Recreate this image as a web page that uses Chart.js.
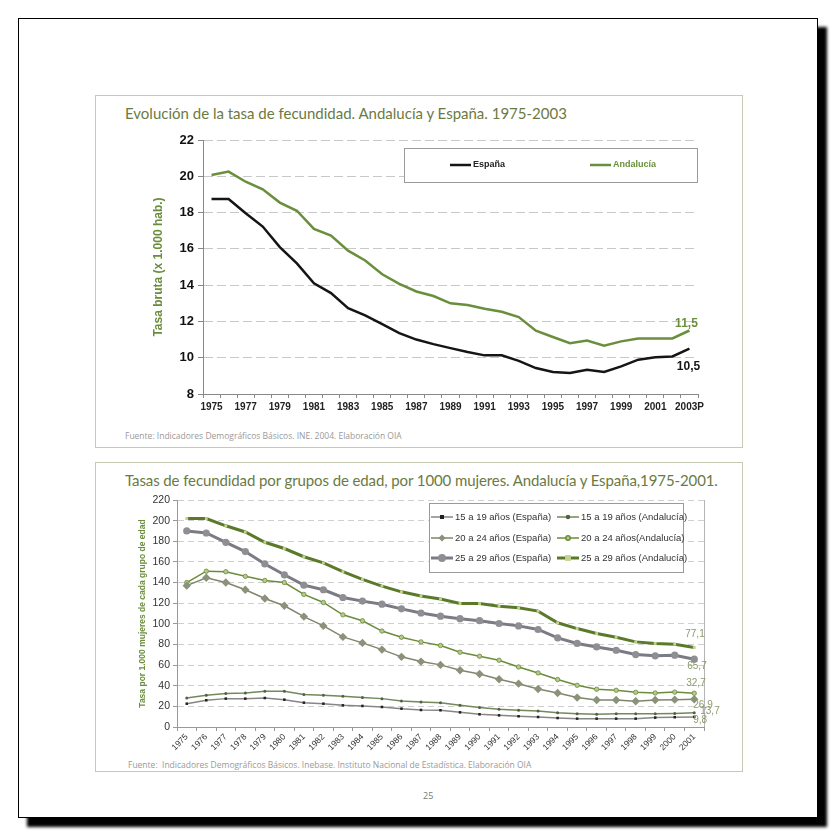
<!DOCTYPE html>
<html>
<head>
<meta charset="utf-8">
<script src="https://cdn.jsdelivr.net/npm/chart.js@4.4.1/dist/chart.umd.min.js"></script>
<style>
  body { margin:0; width:838px; height:838px; background:#fff; position:relative; overflow:hidden; font-family:'Liberation Sans', Arial, sans-serif; }
  #page { position:absolute; left:18px; top:18px; width:798px; height:798px; border:1px solid #000; background:#fff; box-shadow:9px 9px 3px #000; }
  .box { position:absolute; left:95px; width:646px; border:1px solid #c6c9b3; background:#fff; }
  .title { position:absolute; left:125px; font-family:Lato, 'Open Sans', sans-serif; font-size:15px; line-height:18px; color:#6b7a43; white-space:nowrap; }
  .src { position:absolute; font-family:'Open Sans', sans-serif; font-size:8.5px; color:#9a9a9a; white-space:nowrap; }
  .cv { position:absolute; left:96px; }
  #pnum { position:absolute; left:423px; top:789px; font-family:'Open Sans', sans-serif; font-size:9px; color:#777; }
</style>
</head>
<body>
<div id="page"></div>
<div class="box" style="top:95px;height:351px"></div>
<div class="box" style="top:462px;height:308px"></div>
<div class="title" style="top:104px">Evolución de la tasa de fecundidad. Andalucía y España. 1975-2003</div>
<div class="src" style="left:125px;top:430px">Fuente: Indicadores Demográficos Básicos. INE. 2004. Elaboración OIA</div>
<div class="title" style="top:471px;letter-spacing:-0.1px">Tasas de fecundidad por grupos de edad, por 1000 mujeres. Andalucía y España,1975-2001.</div>
<div class="src" style="left:128px;top:759px">Fuente:&nbsp; Indicadores Demográficos Básicos. Inebase. Instituto Nacional de Estadística. Elaboración OIA</div>
<div id="pnum">25</div>
<div class="cv" style="top:125px;width:645px;height:300px"><canvas id="c1"></canvas></div>
<div class="cv" style="top:490px;width:645px;height:265px"><canvas id="c2"></canvas></div>
<script>
// chart 1: tasa bruta
const years1 = ['1975','1976','1977','1978','1979','1980','1981','1982','1983','1984','1985','1986','1987','1988','1989',
  '1990','1991','1992','1993','1994','1995','1996','1997','1998','1999','2000','2001','2002','2003P'];
const espana = [18.75,18.75,17.96,17.23,16.1,15.2,14.1,13.56,12.73,12.33,11.85,11.35,11.0,10.75,10.53,
  10.31,10.13,10.13,9.83,9.43,9.21,9.16,9.34,9.21,9.52,9.89,10.02,10.07,10.5];
const andalucia = [20.07,20.26,19.7,19.28,18.55,18.1,17.1,16.73,15.9,15.36,14.6,14.07,13.65,13.4,13.0,
  12.9,12.7,12.53,12.24,11.49,11.14,10.8,10.95,10.66,10.9,11.06,11.06,11.06,11.5];
const ticks1 = [8,10,12,14,16,18,20,22];

// chart 2: tasas por grupos de edad
const years2 = ['1975','1976','1977','1978','1979','1980','1981','1982','1983','1984','1985','1986','1987','1988',
  '1989','1990','1991','1992','1993','1994','1995','1996','1997','1998','1999','2000','2001'];
const esp1519 = [22.6,25.9,27.5,27.5,28.1,26.5,23.6,22.6,21,20.4,19.4,17.8,16.5,16.2,14.2,12.3,11.3,10.4,9.7,8.7,8.1,8.1,8.1,8.1,9.1,9.5,9.8];
const and1519 = [28,30.7,32.4,33,34.6,34.6,31.4,30.7,29.8,28.5,27.5,25.2,24.3,23.6,21,18.8,17.1,16.2,15.5,13.9,12.9,12.3,12.9,12.9,12.9,13.2,13.7];
const esp2024 = [137,144.6,140,133,124.5,117.5,107,98,87.3,81.5,75,68,63.4,60.2,55,51.4,46.3,42,36.9,33,28.5,26.2,26.2,25,26.2,26.5,26.9];
const and2024 = [140,151,150.5,146,142,140,128.5,120.7,108.7,103,93,87,82.5,79,72.5,68.6,64.7,58.2,52.4,46,40.4,36.6,35.6,33.6,33,33.8,32.7];
const esp2529 = [190,188,179,170,158,147.5,137.5,133,125.5,122,119,114.5,110.5,107.4,105,103,100.3,98,94.5,86.4,81,77.6,74.4,70.2,69,69.6,65.7];
const and2529 = [202,202,195,189,179,173,165,159,150.5,143,136.5,131,127,124,119.7,119.7,117,115.5,112.3,101,95.4,90.6,87,82.5,81,80.2,77.1];

Chart.defaults.font.family = "'Liberation Sans', Arial, sans-serif";
Chart.defaults.animation = false;

function fmt(v){ return v.toFixed(1).replace('.', ','); }

// value labels at the last point of each line
const endLabels = {
  id: 'endLabels',
  afterDatasetsDraw(chart, args, opts) {
    const ctx = chart.ctx;
    ctx.save();
    opts.items.forEach(it => {
      const ds = chart.data.datasets[it.ds];
      const meta = chart.getDatasetMeta(it.ds);
      const pt = meta.data[meta.data.length - 1];
      ctx.font = it.font;
      ctx.fillStyle = it.color;
      ctx.textAlign = it.align;
      ctx.textBaseline = 'middle';
      ctx.fillText(fmt(ds.data[ds.data.length - 1]), pt.x + it.dx, pt.y + it.dy);
    });
    ctx.restore();
  }
};

// legend box drawn inside the plot
const boxLegend = {
  id: 'boxLegend',
  afterDraw(chart, args, o) {
    const ctx = chart.ctx, a = chart.chartArea;
    const x = a.left + o.x, y = a.top + o.y;
    ctx.save();
    ctx.fillStyle = '#fff';
    ctx.fillRect(x, y, o.w, o.h);
    ctx.strokeStyle = '#9a9a9a';
    ctx.lineWidth = 1;
    ctx.strokeRect(Math.round(x) + 0.5, Math.round(y) + 0.5, o.w, o.h);
    ctx.textBaseline = 'middle';
    ctx.textAlign = 'left';
    chart.data.datasets.forEach((ds, i) => {
      const col = i % o.cols, row = Math.floor(i / o.cols);
      const lx = x + o.colX[col], ly = y + o.rowY[row];
      ctx.strokeStyle = ds.borderColor;
      ctx.lineWidth = ds.borderWidth;
      ctx.beginPath(); ctx.moveTo(lx, ly); ctx.lineTo(lx + o.len, ly); ctx.stroke();
      if (ds.pointRadius) {
        ctx.fillStyle = ds.pointBackgroundColor;
        ctx.strokeStyle = ds.pointBorderColor;
        Chart.helpers.drawPoint(ctx, {pointStyle: ds.pointStyle, radius: Math.min(ds.pointRadius, 2.5), borderWidth: 0.5, rotation: 0}, lx + o.len / 2, ly);
      }
      ctx.font = o.font;
      ctx.fillStyle = o.textColor ? o.textColor(i) : '#333';
      ctx.fillText(ds.label, lx + o.len + 2, ly);
    });
    ctx.restore();
  }
};

// right edge of the plot area in chart 2
const rightEdge = {
  id: 'rightEdge',
  beforeDatasetsDraw(chart) {
    const ctx = chart.ctx, a = chart.chartArea;
    ctx.save();
    ctx.strokeStyle = '#b5b5b5';
    ctx.lineWidth = 1;
    ctx.beginPath(); ctx.moveTo(Math.round(a.right) + 0.5, a.top); ctx.lineTo(Math.round(a.right) + 0.5, a.bottom); ctx.stroke();
    ctx.restore();
  }
};

const green = '#6a8f3c';

new Chart(document.getElementById('c1'), {
  type: 'line',
  data: {
    labels: years1,
    datasets: [
      { label: 'España', data: espana, borderColor: '#151515', borderWidth: 2.5, pointRadius: 0, tension: 0 },
      { label: 'Andalucía', data: andalucia, borderColor: green, borderWidth: 2.5, pointRadius: 0, tension: 0 }
    ]
  },
  options: {
    responsive: true, maintainAspectRatio: false,
    layout: { padding: { top: 15, right: 43, left: 0, bottom: 0 } },
    plugins: {
      legend: { display: false }, tooltip: { enabled: false },
      endLabels: { items: [
        { ds: 1, dx: -3, dy: -7, align: 'center', color: green, font: 'bold 12px "Liberation Sans", Arial' },
        { ds: 0, dx: -1, dy: 18, align: 'center', color: '#151515', font: 'bold 12px "Liberation Sans", Arial' }
      ] },
      boxLegend: { x: 201, y: 8, w: 293, h: 34, cols: 2, colX: [46, 186], rowY: [17], len: 21,
        font: 'bold 9px "Liberation Sans", Arial', textColor: i => i === 1 ? green : '#222' }
    },
    scales: {
      x: {
        offset: true,
        grid: { offset: true, drawOnChartArea: false, drawTicks: true, tickLength: 4, tickColor: '#888' },
        border: { color: '#888', width: 1 },
        ticks: { autoSkip: false, maxRotation: 0, padding: 3, color: '#222', font: { size: 10, weight: 'bold' },
          callback: (v, i) => i % 2 === 0 ? years1[i] : '' },
        afterFit: s => { s.height = 31; }
      },
      y: {
        min: 8, max: 22,
        afterBuildTicks: s => { s.ticks = ticks1.map(v => ({ value: v })); },
        grid: { color: '#c8c8c8', tickColor: '#888', tickLength: 5, tickBorderDash: [] },
        border: { color: '#888', width: 1, dash: [9, 4] },
        ticks: { padding: 4, color: '#111', font: { size: 13, weight: 'bold' } },
        title: { display: true, text: 'Tasa bruta (x 1.000 hab.)', color: green, font: { size: 12, weight: 'bold' }, padding: { top: 55, bottom: 0 } },
        afterFit: s => { s.width = 107; }
      }
    }
  },
  plugins: [endLabels, boxLegend]
});

const olive = '#8b927a';
new Chart(document.getElementById('c2'), {
  type: 'line',
  data: {
    labels: years2,
    datasets: [
      { label: '15 a 19 años (España)', data: esp1519, borderColor: '#868686', borderWidth: 1.5,
        pointStyle: 'rect', pointRadius: 1.8, pointBackgroundColor: '#222', pointBorderColor: '#222', pointBorderWidth: 0 },
      { label: '15 a 19 años (Andalucía)', data: and1519, borderColor: '#72895a', borderWidth: 1.5,
        pointStyle: 'circle', pointRadius: 1.5, pointBackgroundColor: '#55604a', pointBorderColor: '#55604a', pointBorderWidth: 0 },
      { label: '20 a 24 años (España)', data: esp2024, borderColor: '#7f866c', borderWidth: 1.5,
        pointStyle: 'rectRot', pointRadius: 4.2, pointBackgroundColor: olive, pointBorderColor: olive, pointBorderWidth: 0 },
      { label: '20 a 24 años(Andalucía)', data: and2024, borderColor: '#6b8c3a', borderWidth: 1.5,
        pointStyle: 'circle', pointRadius: 2.2, pointBackgroundColor: '#b9c88e', pointBorderColor: '#6b8c3a', pointBorderWidth: 0.8 },
      { label: '25 a 29 años (España)', data: esp2529, borderColor: '#7a7b84', borderWidth: 3,
        pointStyle: 'circle', pointRadius: 3.6, pointBackgroundColor: '#8e8f92', pointBorderColor: '#8e8f92', pointBorderWidth: 0 },
      { label: '25 a 29 años (Andalucía)', data: and2529, borderColor: '#5a7a2a', borderWidth: 3,
        pointStyle: 'rect', pointRadius: 2, pointBackgroundColor: '#c4d38f', pointBorderColor: '#c4d38f', pointBorderWidth: 0 }
    ]
  },
  options: {
    responsive: true, maintainAspectRatio: false,
    layout: { padding: { top: 10, right: 37, left: 0, bottom: 0 } },
    plugins: {
      legend: { display: false }, tooltip: { enabled: false },
      endLabels: { items: [
        { ds: 5, dx: -9, dy: -13, align: 'left', color: '#8c9a6b', font: '10px "Liberation Sans", Arial' },
        { ds: 4, dx: -7, dy: 7, align: 'left', color: '#8c9a6b', font: '10px "Liberation Sans", Arial' },
        { ds: 3, dx: -8, dy: -10, align: 'left', color: '#8c9a6b', font: '10px "Liberation Sans", Arial' },
        { ds: 2, dx: -1, dy: 6, align: 'left', color: '#8c9a6b', font: '10px "Liberation Sans", Arial' },
        { ds: 1, dx: 6, dy: -2, align: 'left', color: '#8c9a6b', font: '10px "Liberation Sans", Arial' },
        { ds: 0, dx: -1, dy: 3, align: 'left', color: '#8c9a6b', font: '10px "Liberation Sans", Arial' }
      ] },
      boxLegend: { x: 252, y: 3, w: 254, h: 69, cols: 2, colX: [2, 128], rowY: [14, 35, 55], len: 22,
        font: '9.5px "Liberation Sans", Arial', textColor: () => '#333' }
    },
    scales: {
      x: {
        offset: true,
        grid: { offset: true, drawOnChartArea: false, drawTicks: true, tickLength: 4, tickColor: '#999' },
        border: { color: '#999', width: 1 },
        ticks: { autoSkip: false, minRotation: 45, maxRotation: 45, padding: 1, color: '#333', font: { size: 8.5 } },
        afterFit: s => { s.height = 28; }
      },
      y: {
        min: 0, max: 220,
        ticks: { stepSize: 20, padding: 3, color: '#333', font: { size: 10.5 } },
        grid: { color: '#cfcfcf', tickColor: '#999', tickLength: 4, tickBorderDash: [] },
        border: { color: '#999', width: 1, dash: [6, 4] },
        title: { display: true, text: 'Tasa por 1.000 mujeres de cada grupo de edad', color: green, font: { size: 8.5, weight: 'bold' }, padding: { top: 42, bottom: 0 } },
        afterFit: s => { s.width = 81; }
      }
    }
  },
  plugins: [endLabels, boxLegend, rightEdge]
});
</script>
</body>
</html>
